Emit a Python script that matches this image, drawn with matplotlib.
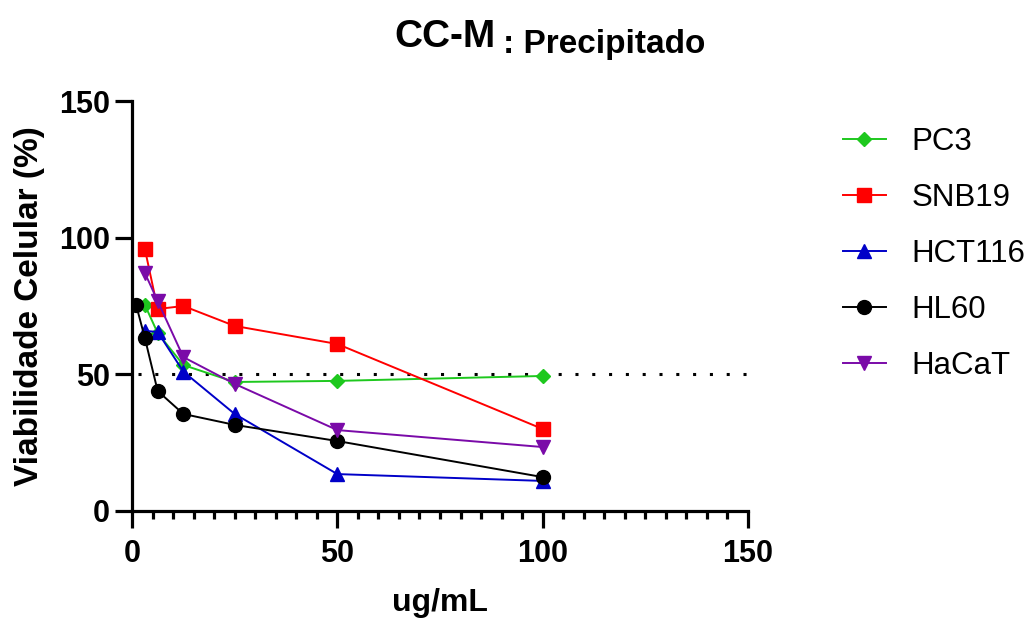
import matplotlib
matplotlib.use("Agg")
import matplotlib.pyplot as plt
from matplotlib.ticker import MultipleLocator

# concentracoes (ug/mL)
conc = [3.125, 6.25, 12.5, 25, 50, 100]
conc_hl60 = [1.0, 3.125, 6.25, 12.5, 25, 50, 100]

pc3 = [75.4, 65.1, 53.4, 47.2, 47.6, 49.4]
snb19 = [95.9, 73.9, 75.0, 67.7, 61.1, 30.0]
hct116 = [65.9, 65.5, 51.0, 35.5, 13.5, 11.0]
hl60 = [75.4, 63.3, 43.9, 35.5, 31.5, 25.6, 12.4]
hacat = [87.1, 76.8, 56.3, 46.5, 29.6, 23.4]

arial = ["Liberation Sans", "DejaVu Sans"]
plt.rcParams["font.family"] = arial

fig = plt.figure(figsize=(10.33, 6.19), dpi=100)
ax = fig.add_axes([0.1278, 0.1745, 0.5963, 0.6623])

ax.axhline(50, xmin=0.01, xmax=1, color="black", linestyle=(0, (1, 4.5)), linewidth=2.2, zorder=1)

ms = 10
ax.plot(conc, pc3, color="#1ec81e", marker="D", markersize=7.5, linewidth=1.4, label="PC3", zorder=3)
ax.plot(conc, snb19, color="#ff0000", marker="s", markersize=ms, linewidth=1.4, label="SNB19", zorder=3)
ax.plot(conc, hct116, color="#0000c8", marker="^", markersize=ms, linewidth=1.4, label="HCT116", zorder=3)
ax.plot(conc_hl60, hl60, color="black", marker="o", markersize=ms, linewidth=1.4, label="HL60", zorder=3)
ax.plot(conc, hacat, color="#7a0aa8", marker="v", markersize=ms, linewidth=1.4, label="HaCaT", zorder=3)

ax.set_xlim(0, 150)
ax.set_ylim(0, 150)
ax.set_xticks([0, 50, 100, 150])
ax.set_yticks([0, 50, 100, 150])
ax.xaxis.set_minor_locator(MultipleLocator(5))

for s in ["top", "right"]:
    ax.spines[s].set_visible(False)
for s in ["left", "bottom"]:
    ax.spines[s].set_linewidth(2.3)

ax.tick_params(axis="x", which="major", length=12, width=2.3, pad=8)
ax.tick_params(axis="y", which="major", length=12, width=2.3, pad=4)
ax.tick_params(axis="x", which="minor", length=6, width=2.3)
for lab in ax.get_xticklabels() + ax.get_yticklabels():
    lab.set_fontweight("bold")
    lab.set_fontsize(22)

ax.set_xlabel("ug/mL", fontweight="bold", fontsize=23, labelpad=14)
ax.set_ylabel("Viabilidade Celular (%)", fontweight="bold", fontsize=24, labelpad=10)

fig.text(496 / 1033, 1 - 47 / 619, "CC-M", fontweight="bold", fontsize=28,
         ha="right", va="baseline")
fig.text(503 / 1033, 1 - 53 / 619, ": Precipitado", fontweight="bold", fontsize=24,
         ha="left", va="baseline")

leg = fig.legend(loc="upper left", bbox_to_anchor=(843 / 1033, 1 - 127 / 619), frameon=False,
                 prop={"family": arial, "size": 22.5}, handlelength=1.37, handletextpad=0.83,
                 labelspacing=0.83, borderpad=0, borderaxespad=0)

fig.savefig("out.png", dpi=100)
